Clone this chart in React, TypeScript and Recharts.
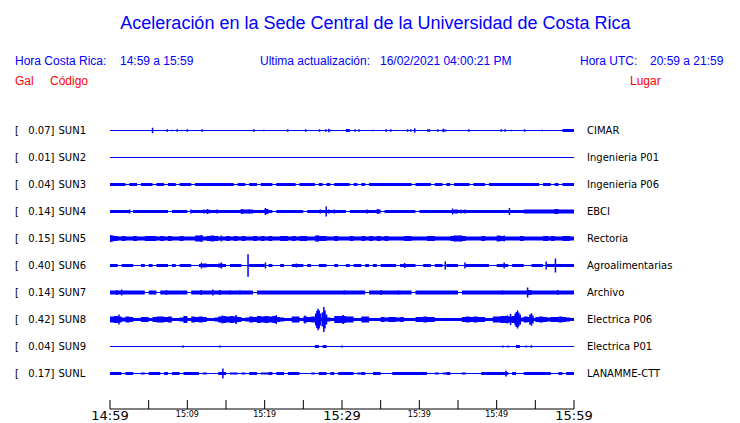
import { ComposedChart, Area, Line, XAxis, YAxis } from 'recharts';

const CODES = ['SUN1', 'SUN2', 'SUN3', 'SUN4', 'SUN5', 'SUN6', 'SUN7', 'SUN8', 'SUN9', 'SUNL'];
const GAL = ['0.07', '0.01', '0.04', '0.14', '0.15', '0.40', '0.14', '0.42', '0.04', '0.17'];
const PLACES = [
  'CIMAR', 'Ingenieria P01', 'Ingenieria P06', 'EBCI', 'Rectoria',
  'Agroalimentarias', 'Archivo', 'Electrica P06', 'Electrica P01', 'LANAMME-CTT',
];

// minutes after 14:59
const TIME_TICKS = [0, 5, 10, 15, 20, 25, 30, 35, 40, 45, 50, 55, 60];
const TIME_LABELS: Record<number, string> = {
  0: '14:59', 10: '15:09', 20: '15:19', 30: '15:29', 40: '15:39', 50: '15:49', 60: '15:59',
};
const BIG_TICKS = [0, 30, 60];

// envelope level every 30 s (half thickness = (level + 1) / 2)
const SUN1_BAND = [
  0,0,0,0,0,0,0,0,0,0, 0,0,0,0,0,0,0,0,0,0, 0,0,0,0,0,0,0,0,0,0, 0,0,0,0,0,0,0,0,0,0,
  0,0,0,0,0,0,0,0,0,0, 0,0,0,0,0,0,0,0,0,0, 0,2,0,0,0,0,0,0,0,0, 0,0,0,0,0,0,0,0,0,0,
  0,0,0,0,0,0,1,0,0,0, 0,0,0,0,0,0,0,0,0,0, 0,0,0,0,0,0,0,0,0,0, 0,0,0,0,0,0,0,2,2,2,
];
const SUN2_BAND = [
  0,0,0,0,0,0,0,0,0,0, 0,0,0,0,0,0,0,0,0,0, 0,0,0,0,0,0,0,0,0,0, 0,0,0,0,0,0,0,0,0,0,
  0,0,0,0,0,0,0,0,0,0, 0,0,0,0,0,0,0,0,0,0, 0,0,0,0,0,0,0,0,0,0, 0,0,0,0,0,0,0,0,0,0,
  0,0,0,0,0,0,0,0,0,0, 0,0,0,0,0,0,0,0,0,0, 0,0,0,0,0,0,0,0,0,0, 0,0,0,0,0,0,0,0,0,0,
];
const SUN3_BAND = [
  2,2,2,2,0,2,2,0,2,2, 2,0,2,2,0,2,2,0,2,2, 2,0,2,2,2,2,2,2,2,2, 2,2,0,2,2,0,2,2,0,2,
  2,2,0,2,2,2,2,2,0,2, 2,2,2,0,2,0,2,0,2,2, 2,2,0,2,0,2,0,2,2,2, 2,2,2,2,2,2,2,2,0,2,
  2,2,2,0,2,2,0,2,0,2, 2,2,2,0,2,2,2,0,2,2, 2,2,2,2,2,2,2,2,2,2, 2,0,2,2,0,2,0,2,2,2,
];
const SUN4_BAND = [
  2,2,2,2,2,0,2,2,2,2, 2,2,2,2,2,0,2,2,2,2, 0,2,2,2,2,2,2,2,2,2, 2,2,2,2,3,3,3,2,2,2,
  4,2,0,2,2,2,2,2,2,2, 0,2,2,2,2,2,2,2,2,2, 2,0,2,2,2,2,2,2,2,3, 0,2,2,2,2,2,2,2,2,0,
  2,2,2,2,2,2,2,2,2,3, 2,2,2,2,2,2,2,2,2,2, 2,2,2,2,2,2,2,3,3,3, 3,3,3,3,3,4,3,3,3,3,
];
const SUN5_BAND = [
  5,4,3,4,3,3,4,3,3,4, 4,4,3,4,3,4,3,3,4,3, 3,3,5,5,3,4,5,4,3,3, 4,3,4,3,4,3,3,4,3,4,
  3,4,3,3,4,4,3,4,3,4, 4,3,3,5,4,4,3,3,4,3, 3,3,4,3,3,4,3,4,3,4, 3,4,3,3,3,3,4,4,3,3,
  3,3,4,4,3,3,3,3,4,5, 5,4,3,3,3,3,4,3,3,3, 5,4,3,3,3,3,4,3,3,3, 3,3,4,3,4,3,3,4,4,3,
];
const SUN6_BAND = [
  2,2,0,2,2,2,0,0,2,0, 2,0,2,2,2,0,2,0,2,2, 2,0,0,2,3,2,2,2,3,2, 0,2,2,2,0,0,2,2,2,2,
  0,2,0,0,2,0,0,2,2,2, 0,2,0,0,2,2,0,0,2,0, 0,2,0,2,2,0,2,0,2,0, 2,2,2,2,0,2,2,2,2,0,
  0,2,2,0,2,2,0,2,2,2, 0,0,2,2,2,2,2,2,0,0, 2,2,2,0,2,2,2,0,0,2, 2,2,0,2,2,2,2,2,2,2,
];
const SUN7_BAND = [
  3,3,3,3,3,3,3,3,3,0, 3,3,0,3,3,3,3,3,3,3, 0,3,3,3,3,3,3,3,3,3, 3,3,3,3,3,3,3,0,3,3,
  3,3,3,3,3,3,3,3,3,3, 3,3,3,3,3,3,3,3,3,3, 3,3,3,3,3,3,0,3,3,3, 3,3,3,3,3,3,3,3,0,3,
  3,3,3,3,3,3,3,3,3,3, 0,3,3,3,3,3,3,3,3,3, 3,3,3,3,3,3,3,3,4,3, 3,3,3,3,3,3,3,3,3,3,
];
const SUN8_BAND = [
  5,6,5,3,5,4,2,2,4,4, 2,4,5,5,4,5,2,2,3,6, 2,5,4,5,4,2,2,3,5,6, 5,6,5,4,2,3,5,4,6,5,
  6,5,6,4,3,2,2,5,5,2, 5,4,5,2,2,2,3,2,6,6, 6,5,5,2,2,5,5,2,2,2, 4,3,4,4,3,4,2,2,2,4,
  4,5,4,4,2,2,2,2,2,2, 2,4,5,4,5,4,4,2,2,5, 5,6,6,5,6,4,3,5,4,2, 4,5,4,3,4,4,5,4,3,2,
];
const SUN9_BAND = [
  0,0,0,0,0,0,0,0,0,0, 0,0,0,0,0,0,0,0,0,0, 0,0,0,0,0,0,0,0,0,0, 0,0,0,0,0,0,0,0,0,0,
  0,0,0,0,0,0,0,0,0,0, 0,0,0,2,0,2,0,0,0,0, 0,0,0,0,0,0,0,0,0,0, 0,0,0,0,0,0,0,0,0,0,
  0,0,0,0,0,0,0,0,0,0, 0,0,0,0,0,0,0,0,0,0, 0,0,0,0,0,2,0,0,0,0, 0,0,0,0,0,0,0,0,0,0,
];
const SUNL_BAND = [
  2,2,2,0,2,2,0,0,1,0, 2,2,2,0,2,0,2,2,0,2, 2,2,2,0,1,0,0,0,2,2, 0,1,1,0,1,0,2,2,0,1,
  1,2,0,2,2,0,2,2,2,0, 0,0,1,0,2,2,0,2,0,2, 2,2,2,0,1,2,0,0,2,2, 0,0,0,2,2,2,2,2,2,2,
  2,2,0,0,1,0,1,2,0,0, 0,1,0,0,0,0,2,2,2,2, 2,2,2,0,2,0,0,2,2,2, 2,2,2,2,0,0,2,0,2,2,
];

// isolated spikes: [minute, half amplitude]
const SUN1_SPIKES = [
  [5.5, 2.7], [7.4, 1.2], [8.0, 0.8], [8.7, 1.2], [9.25, 0.8], [10.0, 1.2], [11.9, 1.3],
  [18.6, 1.2], [19.9, 0.8], [23.0, 1.2], [25.3, 1.2], [27.1, 1.2], [27.9, 1.2], [28.3, 1.8],
  [28.6, 0.8], [31.7, 1.2], [32.2, 1.2], [34.0, 0.8], [35.7, 1.2], [36.3, 1.2], [38.5, 1.2],
  [38.9, 1.2], [39.4, 2.2], [41.1, 1.2], [41.3, 1.2], [42.4, 1.2], [43.1, 1.8], [46.4, 1.2],
  [50.6, 1.2], [51.1, 1.2], [51.9, 0.8], [53.6, 1.2], [55.9, 0.8],
];
const SUN2_SPIKES: number[][] = [];
const SUN3_SPIKES: number[][] = [];
const SUN4_SPIKES = [
  [2.54, 2], [10.45, 2], [12.17, 2], [12.56, 2.5], [12.8, 2], [13.85, 2], [17.0, 2.5],
  [17.2, 2], [18.0, 2], [20.1, 3.5], [27.2, 2], [27.96, 5], [28.3, 2], [29.0, 2], [33.25, 2],
  [34.6, 2.5], [44.3, 3], [45.4, 2], [45.9, 2], [51.65, 3.5], [57.6, 2.5],
];
const SUN5_SPIKES = [
  [0.1, 3.5], [11.83, 3.5], [13.1, 2.5], [14.4, 3], [26.9, 3], [44.5, 3], [45.4, 3],
  [50.97, 3], [56.6, 2.5],
];
const SUN6_SPIKES = [
  [11.83, 3], [14.4, 3], [17.85, 11.3], [20.1, 3], [24.1, 2], [38.1, 2.5], [43.35, 4],
  [45.9, 3], [50.97, 3], [56.4, 4], [57.6, 7],
];
const SUN7_SPIKES = [
  [0.86, 2.5], [1.5, 3], [7.3, 2.5], [11.8, 2.5], [13.3, 3], [14.2, 2.5], [15.5, 2],
  [16.8, 2], [30.3, 2], [35.05, 2.5], [37.3, 2], [50.75, 2], [54.0, 5], [57.9, 2.5],
];
const SUN8_SPIKES = [
  [1.16, 5], [14.5, 4], [16.3, 4.5], [21.5, 4.5], [25.2, 4], [26.6, 6], [26.75, 8.5],
  [26.9, 10.8], [27.05, 9], [27.2, 6], [27.45, 7], [27.65, 12.5], [27.8, 9], [28.0, 5],
  [30.15, 4.5], [51.4, 4], [51.8, 5.5], [52.4, 6], [52.55, 7.5], [52.7, 9], [52.85, 7],
  [53.05, 5], [54.3, 5], [54.5, 6.3], [54.7, 4],
];
const SUN9_SPIKES = [
  [9.46, 1], [14.2, 1], [30.0, 1], [50.8, 1], [51.5, 1], [53.8, 1], [54.5, 1.2],
];
const SUNL_SPIKES = [[14.6, 5], [51.2, 3]];

const BANDS = [SUN1_BAND, SUN2_BAND, SUN3_BAND, SUN4_BAND, SUN5_BAND, SUN6_BAND, SUN7_BAND, SUN8_BAND, SUN9_BAND, SUNL_BAND];
const SPIKES = [SUN1_SPIKES, SUN2_SPIKES, SUN3_SPIKES, SUN4_SPIKES, SUN5_SPIKES, SUN6_SPIKES, SUN7_SPIKES, SUN8_SPIKES, SUN9_SPIKES, SUNL_SPIKES];

const BLUE = '#0000ff';
const STEP = 0.5;
const ROW = 27;
const TOP = 278.5;
const offset = (i: number) => TOP - ROW * i;

const bandData = Array.from({ length: BANDS[0].length + 1 }, (_, k) => {
  const row: Record<string, any> = { t: k * STEP };
  BANDS.forEach((b, i) => {
    const h = (b[Math.min(k, b.length - 1)] + 1) / 2;
    row['b' + i] = [offset(i) - h, offset(i) + h];
  });
  return row;
});

const spikeData = SPIKES.map((list, i) =>
  list.flatMap(([t, h]) => [
    { t, s: offset(i) - h },
    { t, s: offset(i) + h },
    { t, s: null },
  ])
);

const rowIndex = (v: number) => Math.round((TOP - v) / ROW);

const LeftTick = (props: any) => {
  const { x, y, payload } = props;
  const i = rowIndex(payload.value);
  return (
    <g fontFamily="DejaVu Sans" fontSize={10} fill="#000">
      <text x={x - 95} y={y + 3.6}>[</text>
      <text x={x - 55.5} y={y + 3.6} textAnchor="end">{GAL[i]}]</text>
      <text x={x - 51.5} y={y + 3.6}>{CODES[i]}</text>
    </g>
  );
};

const RightTick = (props: any) => {
  const { x, y, payload } = props;
  const i = rowIndex(payload.value);
  return (
    <text x={x + 13} y={y + 3.6} fontFamily="DejaVu Sans" fontSize={10} fill="#000">
      {PLACES[i]}
    </text>
  );
};

const TimeTick = (props: any) => {
  const { x, y, payload } = props;
  const label = TIME_LABELS[payload.value];
  const big = BIG_TICKS.includes(payload.value);
  return (
    <g>
      <line x1={x} x2={x} y1={y - 9} y2={y} stroke="#000" />
      {label && (
        <text x={x} y={y + (big ? 11 : 8)} textAnchor="middle" fontFamily="DejaVu Sans"
          fontSize={big ? 13 : 8} fill="#000">
          {label}
        </text>
      )}
    </g>
  );
};

const HEAD = { fontFamily: 'Liberation Sans, Arial, sans-serif', fontSize: 12 };

export default function App() {
  const rowTicks = CODES.map((_, i) => offset(i));
  return (
    <div style={{ position: 'absolute', left: 0, top: 0, width: 740, height: 423, background: '#fff' }}>
      <svg width={740} height={100} style={{ position: 'absolute', left: 0, top: 0 }}>
        <text x={375.5} y={29} textAnchor="middle" fill={BLUE}
          fontFamily="Liberation Sans, Arial, sans-serif" fontSize={18}>
          Aceleración en la Sede Central de la Universidad de Costa Rica
        </text>
        <g {...HEAD} fill={BLUE}>
          <text x={15} y={65}>Hora Costa Rica:</text>
          <text x={120} y={65}>14:59 a 15:59</text>
          <text x={260} y={65}>Ultima actualización:</text>
          <text x={380} y={65}>16/02/2021 04:00:21 PM</text>
          <text x={580} y={65}>Hora UTC:</text>
          <text x={650} y={65}>20:59 a 21:59</text>
        </g>
        <g {...HEAD} fill="#ff0000">
          <text x={15} y={85}>Gal</text>
          <text x={50} y={85}>Código</text>
          <text x={630} y={85}>Lugar</text>
        </g>
      </svg>
      <div style={{ position: 'absolute', left: 0, top: 0 }}>
        <ComposedChart width={740} height={423} data={bandData}
          margin={{ top: 110, right: 0, bottom: 0, left: 0 }}>
          <XAxis dataKey="t" type="number" domain={[0, 60]} ticks={TIME_TICKS} interval={0}
            height={14} tickSize={0} tickMargin={0} tickLine={false}
            axisLine={{ stroke: '#000' }} tick={<TimeTick />} />
          <YAxis yAxisId="l" orientation="left" type="number" domain={[0, 299]} width={110}
            ticks={rowTicks} interval={0} tickSize={0} tickMargin={0} axisLine={false}
            tickLine={false} tick={<LeftTick />} allowDataOverflow />
          <YAxis yAxisId="r" orientation="right" type="number" domain={[0, 299]} width={166}
            ticks={rowTicks} interval={0} tickSize={0} tickMargin={0} axisLine={false}
            tickLine={false} tick={<RightTick />} allowDataOverflow />
          {BANDS.map((_, i) => (
            <Area key={'b' + i} yAxisId="l" dataKey={'b' + i} type="stepAfter" stroke="none"
              fill={BLUE} fillOpacity={1} isAnimationActive={false} dot={false} activeDot={false} />
          ))}
          {spikeData.map((d, i) => (
            <Line key={'s' + i} yAxisId="l" data={d} dataKey="s" type="linear" stroke={BLUE}
              strokeWidth={1.5} dot={false} activeDot={false} connectNulls={false}
              isAnimationActive={false} />
          ))}
        </ComposedChart>
      </div>
    </div>
  );
}
